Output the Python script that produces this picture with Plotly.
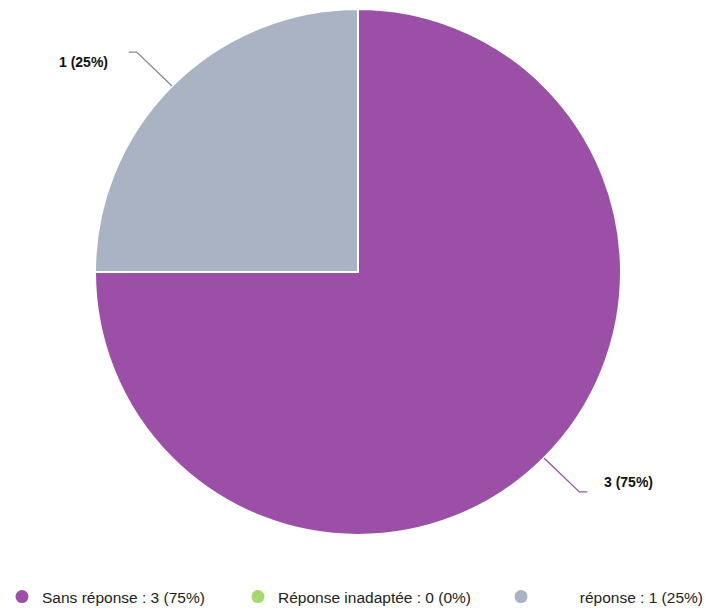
import math
import plotly.graph_objects as go

# ---- data ----
labels = ["Sans réponse", "Réponse inadaptée", "réponse"]
values = [3, 0, 1]
legend_prefix = ["", "", "\u00a0" * 9]
colors = ["#9b4fa7", "#a6d870", "#aab3c3"]

W, H = 712, 610
OFF = 8  # page body margin of the browser
CX, CY, R = 358 - OFF, 272 - OFF, 263  # pie centre / radius in figure pixels
LEGEND_MARKER_X = [22 - OFF, 258 - OFF, 521 - OFF]
LEGEND_Y = 597 - OFF

total = sum(values)
pct = [v / total * 100 for v in values]
point_labels = [f"{v} ({p:.0f}%)" for v, p in zip(values, pct)]
legend_labels = [f"{pre}{l} : {v} ({p:.0f}%)" for pre, l, v, p in zip(legend_prefix, labels, values, pct)]

fig = go.Figure()
fig.add_trace(go.Pie(
    labels=labels, values=values, sort=False, direction="clockwise", rotation=0,
    marker=dict(colors=colors, line=dict(color="white", width=2)),
    textinfo="none", hoverinfo="label+value+percent", showlegend=False,
    domain=dict(x=[(CX - R) / W, (CX + R) / W], y=[(H - CY - R) / H, (H - CY + R) / H]),
))

legend_ids = ["legend", "legend2", "legend3"]
for name, c, lid in zip(legend_labels, colors, legend_ids):
    fig.add_trace(go.Scatter(x=[None], y=[None], mode="markers", name=name, legend=lid,
                             marker=dict(color=c, size=13, symbol="circle")))

def px(x, y):
    return x / W, 1 - y / H

shapes, annotations = [], []
cum = 0
for v, txt, c in zip(values, point_labels, colors):
    frac = v / total
    if v > 0:
        mid = 2 * math.pi * (cum + frac / 2)
        sx, sy = math.sin(mid), -math.cos(mid)
        x0, y0 = CX + R * sx, CY + R * sy
        x1, y1 = CX + (R + 50) * sx, CY + (R + 48) * sy
        side = 1 if sx >= 0 else -1
        x2 = x1 + 8 * side
        p0, p1, p2 = px(x0, y0), px(x1, y1), px(x2, y1)
        shapes.append(dict(type="path", xref="paper", yref="paper",
                           path=f"M {p0[0]},{p0[1]} L {p1[0]},{p1[1]} L {p2[0]},{p2[1]}",
                           line=dict(color=c if side > 0 else "#7f8a9a", width=1.3)))
        tx, _ = px(x2 + (15 if side > 0 else 19) * side, y1)
        annotations.append(dict(xref="paper", yref="paper", x=tx, y=p2[1], text=f"<b>{txt}</b>",
                                showarrow=False, xanchor="left" if side > 0 else "right",
                                font=dict(size=14, color="#111111", family="Liberation Sans, Arial")))
    cum += frac

legend_common = dict(orientation="h", xanchor="left", yanchor="middle", y=1 - LEGEND_Y / H,
                     font=dict(size=15.5), itemwidth=30, bgcolor="rgba(0,0,0,0)")
layout_legends = {lid: dict(legend_common, x=(mx - 20) / W) for lid, mx in zip(legend_ids, LEGEND_MARKER_X)}

fig.update_layout(
    width=W, height=H, margin=dict(l=0, r=0, t=0, b=0, autoexpand=False),
    paper_bgcolor="white", plot_bgcolor="white",
    xaxis=dict(visible=False), yaxis=dict(visible=False),
    shapes=shapes, annotations=annotations,
    font=dict(family="Liberation Sans, Arial", size=15, color="#222222"),
    **layout_legends,
)
fig.write_html("out.html")
